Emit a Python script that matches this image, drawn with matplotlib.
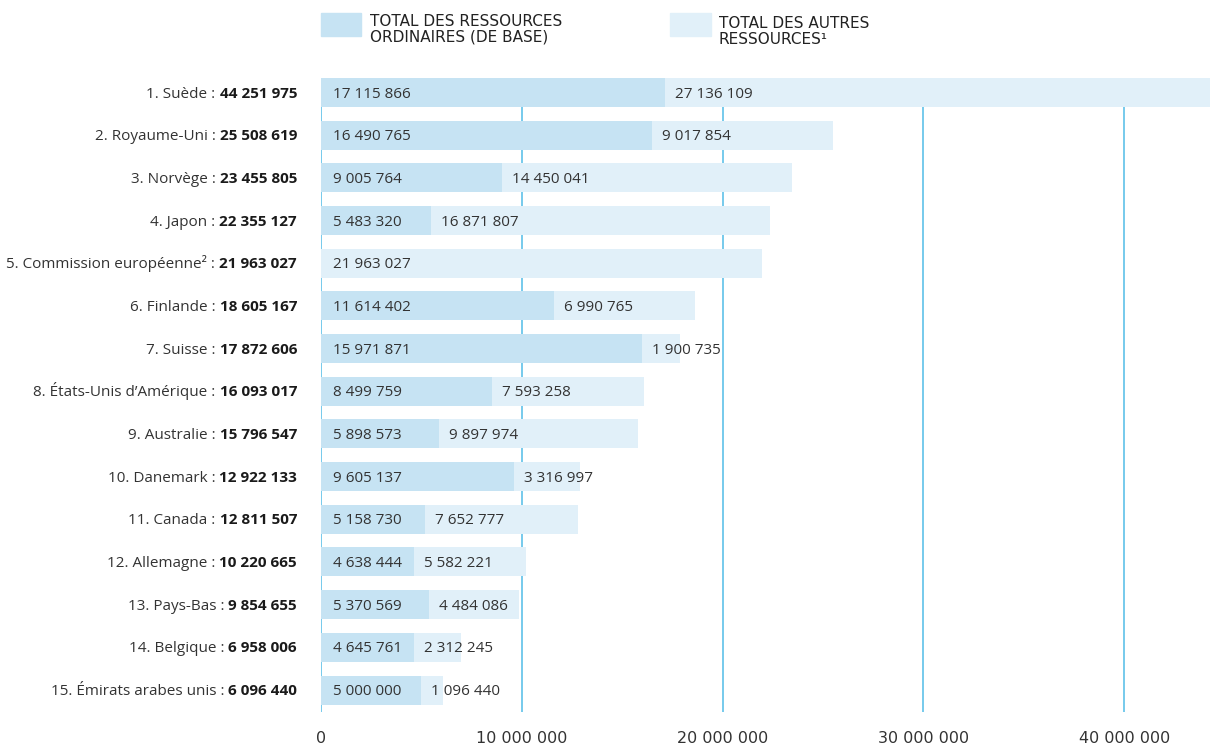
import matplotlib
matplotlib.use('Agg')
import matplotlib.pyplot as plt
from matplotlib.patches import Rectangle
from matplotlib.ticker import FuncFormatter

countries = ['1. Suède', '2. Royaume-Uni', '3. Norvège', '4. Japon',
             '5. Commission européenne²', '6. Finlande', '7. Suisse',
             '8. États-Unis d’Amérique', '9. Australie', '10. Danemark',
             '11. Canada', '12. Allemagne', '13. Pays-Bas', '14. Belgique',
             '15. Émirats arabes unis']
totals = [44251975, 25508619, 23455805, 22355127, 21963027, 18605167, 17872606,
          16093017, 15796547, 12922133, 12811507, 10220665, 9854655, 6958006, 6096440]
base = [17115866, 16490765, 9005764, 5483320, 0, 11614402, 15971871,
        8499759, 5898573, 9605137, 5158730, 4638444, 5370569, 4645761, 5000000]
other = [27136109, 9017854, 14450041, 16871807, 21963027, 6990765, 1900735,
         7593258, 9897974, 3316997, 7652777, 5582221, 4484086, 2312245, 1096440]
ticks = [0, 10000000, 20000000, 30000000, 40000000]

C_BASE = '#c6e3f3'
C_OTHER = '#e1f0f9'
C_GRID = '#5fc1e9'
C_TEXT = '#333333'

def fmt(v):
	return '{:,}'.format(int(v)).replace(',', ' ')

W, H = 1210, 748
fig = plt.figure(figsize=(W / 100, H / 100), dpi=100)
ax = fig.add_axes([321 / W, (H - 712) / H, (1210 - 321) / W, (712 - 78) / H])

ys = list(range(len(countries)))
ax.barh(ys, base, height=0.68, color=C_BASE, zorder=2)
ax.barh(ys, other, left=base, height=0.68, color=C_OTHER, zorder=2)

ax.set_xlim(0, 44270000)
ax.set_ylim(14.515, -0.34)
ax.set_xticks(ticks)
ax.xaxis.set_major_formatter(FuncFormatter(lambda v, p: fmt(v)))
ax.grid(axis='x', color=C_GRID, linewidth=1.2, zorder=0)
ax.set_yticks([])
ax.tick_params(axis='x', length=0, pad=14, labelsize=11.5, labelcolor=C_TEXT)
for lab in ax.get_xticklabels():
	lab.set_family('DejaVu Sans')
for s in ax.spines.values():
	s.set_visible(False)

# value labels inside bars
for y, b, o in zip(ys, base, other):
	if b > 0:
		ax.annotate(fmt(b), (0, y), xytext=(12, -5), textcoords='offset pixels',
			va='baseline', ha='left', fontsize=11, family='Open Sans', color=C_TEXT, zorder=5)
		ax.annotate(fmt(o), (b, y), xytext=(10, -5), textcoords='offset pixels',
			va='baseline', ha='left', fontsize=11, family='Open Sans', color=C_TEXT, zorder=5)
	else:
		ax.annotate(fmt(o), (0, y), xytext=(12, -5), textcoords='offset pixels',
			va='baseline', ha='left', fontsize=11, family='Open Sans', color=C_TEXT, zorder=5)

# country labels: normal name + bold total, right aligned
fig.canvas.draw()
renderer = fig.canvas.get_renderer()
for y, name, tot in zip(ys, countries, totals):
	t = ax.annotate(fmt(tot), (0, y), xytext=(-24, -5), textcoords='offset pixels',
		va='baseline', ha='right', fontsize=11, family='Open Sans', fontweight='bold',
		color='#1a1a1a', annotation_clip=False)
	w = t.get_window_extent(renderer).width
	ax.annotate(name + ' :', (0, y), xytext=(-24 - w - 4, -5), textcoords='offset pixels',
		va='baseline', ha='right', fontsize=11, family='Open Sans', color=C_TEXT,
		annotation_clip=False)

# legend
fig.patches.append(Rectangle((321 / W, 1 - 36 / H), 40 / W, 23 / H,
	transform=fig.transFigure, color=C_BASE))
fig.patches.append(Rectangle((670 / W, 1 - 36 / H), 41 / W, 23 / H,
	transform=fig.transFigure, color=C_OTHER))
fig.text(370 / W, 1 - 14 / H, 'TOTAL DES RESSOURCES\nORDINAIRES (DE BASE)', va='top', ha='left',
	fontsize=11, family='DejaVu Sans', color='#222222', linespacing=1.05)
fig.text(719 / W, 1 - 16 / H, 'TOTAL DES AUTRES\nRESSOURCES¹', va='top', ha='left',
	fontsize=11, family='DejaVu Sans', color='#222222', linespacing=1.05)

fig.savefig('out.png', dpi=100)
